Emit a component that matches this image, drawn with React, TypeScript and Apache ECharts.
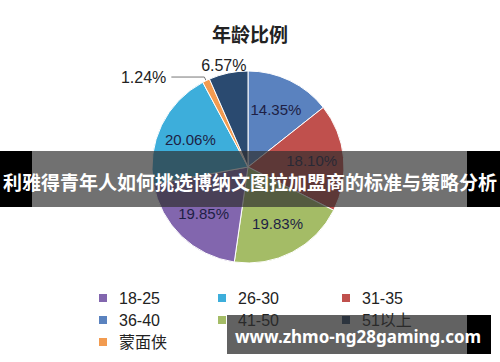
import React, { useEffect, useRef } from "react";
import * as echarts from "echarts";

const titleText = "年龄比例";
const sliceNames = ["36-40", "31-35", "41-50", "18-25", "26-30", "蒙面侠", "51以上"];
const sliceValues = [14.35, 18.1, 19.83, 19.85, 20.06, 1.24, 6.57];
const sliceColors = ["#5a82bf", "#c0504d", "#a4bc66", "#8266ae", "#3daedb", "#f29b50", "#2a4a70"];
const outsideLabelNames = ["蒙面侠", "51以上"];
const legendCol1 = ["18-25", "36-40", "蒙面侠"];
const legendCol2 = ["26-30", "41-50"];
const legendCol3 = ["31-35", "51以上"];
const bannerText = "利雅得青年人如何挑选博纳文图拉加盟商的标准与策略分析";
const watermarkText = "www.zhmo-ng28gaming.com";

const FONT = "'Liberation Sans', 'Noto Sans CJK SC', sans-serif";
const CJK_FONT = "'Noto Sans CJK SC', 'Noto Sans', sans-serif";

export default function App() {
  const ref = useRef<HTMLDivElement>(null);

  useEffect(() => {
    if (!ref.current) return;
    const chart = echarts.init(ref.current, null, { renderer: "svg" });

    const mainData = sliceNames.map((name, i) => {
      const outside = outsideLabelNames.includes(name);
      const isMask = name === "蒙面侠";
      return {
        name,
        value: sliceValues[i],
        itemStyle: { color: sliceColors[i] },
        label: { show: outside },
        labelLine: {
          show: outside,
          length: isMask ? 4 : 4,
          length2: isMask ? 33 : 6,
          lineStyle: isMask ? { color: "#777", width: 1 } : { color: "rgba(0,0,0,0)", width: 0 },
        },
      };
    });

    const overlayData = sliceNames.map((name, i) => ({
      name,
      value: sliceValues[i],
      label: { show: !outsideLabelNames.includes(name) },
    }));

    const legendCommon = {
      orient: "vertical" as const,
      top: 285,
      icon: "rect",
      itemWidth: 10,
      itemHeight: 10,
      itemGap: 6,
      textStyle: {
        fontSize: 16,
        lineHeight: 16,
        color: "#222",
        fontFamily: FONT,
        padding: [0, 0, 0, 6],
      },
    };

    chart.setOption({
      animation: false,
      backgroundColor: "#ffffff",
      title: {
        text: titleText,
        left: "center",
        top: 19,
        textStyle: { fontSize: 19, fontWeight: "bold", color: "#222", fontFamily: CJK_FONT },
      },
      legend: [
        { ...legendCommon, left: 92, data: legendCol1 },
        { ...legendCommon, left: 211, data: legendCol2 },
        { ...legendCommon, left: 335, data: legendCol3 },
      ],
      series: [
        {
          type: "pie",
          center: [248, 167],
          radius: 96,
          startAngle: 90,
          clockwise: true,
          avoidLabelOverlap: false,
          itemStyle: { borderColor: "#ffffff", borderWidth: 1 },
          label: {
            position: "outside",
            formatter: (p: any) => p.value.toFixed(2) + "%",
            fontSize: 16,
            color: "#222",
            fontFamily: FONT,
          },
          labelLine: { lineStyle: { color: "#777", width: 1 } },
          labelLayout: (p: any) => (p.dataIndex === 6 ? { dx: 30, dy: -4 } : {}),
          emphasis: { disabled: true },
          data: mainData,
        },
        {
          type: "pie",
          center: [248, 167],
          radius: 122,
          startAngle: 90,
          clockwise: true,
          silent: true,
          avoidLabelOverlap: false,
          itemStyle: { color: "rgba(0,0,0,0)", borderWidth: 0 },
          label: {
            position: "inside",
            formatter: (p: any) => p.value.toFixed(2) + "%",
            fontSize: 15,
            color: "#1e1f45",
            fontFamily: FONT,
          },
          labelLine: { show: false },
          emphasis: { disabled: true },
          data: overlayData,
        },
      ],
      graphic: [
        { type: "rect", z: 100, shape: { x: 0, y: 151, width: 32, height: 56 }, style: { fill: "#000" } },
        { type: "rect", z: 100, shape: { x: 32, y: 151, width: 435, height: 56 }, style: { fill: "rgba(45,45,45,0.68)" } },
        { type: "rect", z: 100, shape: { x: 467, y: 151, width: 33, height: 56 }, style: { fill: "#000" } },
        {
          type: "text",
          z: 101,
          x: 250,
          y: 181,
          style: {
            text: bannerText,
            fill: "#fff",
            font: `bold 19px ${CJK_FONT}`,
            textAlign: "center",
            textVerticalAlign: "middle",
          },
        },
        { type: "rect", z: 100, shape: { x: 227, y: 315, width: 240, height: 39 }, style: { fill: "rgba(45,45,45,0.75)" } },
        { type: "rect", z: 100, shape: { x: 467, y: 315, width: 24, height: 39 }, style: { fill: "#000" } },
        {
          type: "text",
          z: 101,
          x: 358,
          y: 336,
          style: {
            text: watermarkText,
            fill: "#fff",
            font: `bold 17px 'Noto Sans', sans-serif`,
            textAlign: "center",
            textVerticalAlign: "middle",
          },
        },
      ],
    });

    return () => chart.dispose();
  }, []);

  return (
    <div
      ref={ref}
      style={{ position: "fixed", left: 0, top: 0, width: 500, height: 362 }}
    />
  );
}
